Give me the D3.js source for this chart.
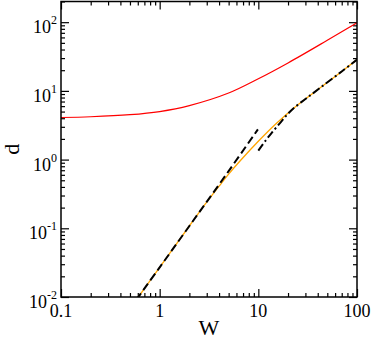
<!DOCTYPE html>
<html>
<head>
<meta charset="utf-8">
<script src="https://cdn.jsdelivr.net/npm/d3@7"></script>
<style>
  body { margin: 0; background: #fff; }
  svg { display: block; font-family: "Liberation Serif", "Times New Roman", serif; }
  .axis path, .axis line { stroke: #000; }
</style>
</head>
<body>
<div class="chart"><svg></svg></div>
<script>
'use strict';

// tick positions and labels
var wTicks = [0.1, 1, 10, 100];
var wTickLabels = ['0.1', '1', '10', '100'];
var dTicks = [0.01, 0.1, 1, 10, 100];
var dTickExp = ['-2', '-1', '0', '1', '2'];

// red curve
var redW = [0.1, 0.2, 0.5, 1, 2, 5, 10, 20, 50, 100];
var redD = [4.1, 4.2, 4.5, 5.0, 6.1, 9.3, 15, 25.5, 54.5, 98];

// orange curve
var orangeW = [0.58, 1, 2, 2.6, 4, 5, 6.8, 10, 15, 23.3, 30, 42.4, 70, 100];
var orangeD = [0.0091, 0.027, 0.108, 0.183, 0.41, 0.615, 1.02, 1.85, 3.3, 5.75, 7.6, 11.1, 19.2, 28.5];

// black dashed (small W)
var dashW = [0.58, 1, 2, 5, 9.9];
var dashD = [0.0091, 0.027, 0.108, 0.68, 2.75];

// black dot-dashed (large W)
var dotDashW = [10, 12, 14, 17, 20, 23.3, 30, 42.4, 70, 100];
var dotDashD = [1.35, 1.94, 2.55, 3.55, 4.65, 5.75, 7.6, 11.1, 19.2, 28.5];

function chartLog() {
    var w = 374, h = 339;
    var margin = { top: 1.5, right: 17, bottom: 42, left: 61 };
    var width = w - margin.left - margin.right;
    var height = h - margin.top - margin.bottom;

    var svg = d3.select('.chart svg').attr('width', w).attr('height', h);

    var x = d3.scaleLog().domain([0.1, 100]).range([0, width]);
    var y = d3.scaleLog().domain([0.01, 200]).range([height, 0]);

    var g = svg.append('g').attr('transform', 'translate(' + margin.left + ',' + margin.top + ')');

    // minor ticks 2..9 of each decade
    function minors(lo, hi) {
        var out = [];
        for (var e = lo; e < hi; e++) {
            for (var k = 2; k <= 9; k++) {
                out.push(+(k * Math.pow(10, e)).toPrecision(3));
            }
        }
        return out;
    }
    var xMinor = minors(-1, 2);
    var yMinor = minors(-2, 3).filter(function (v) { return v <= 200; });

    function drawAxis(axisFn, scale, vals, size, transform) {
        var a = axisFn(scale).tickValues(vals).tickSize(-size).tickFormat('');
        var ga = g.append('g').attr('class', 'axis').attr('transform', transform).call(a);
        ga.select('.domain').remove();
        ga.selectAll('line').attr('stroke-width', 1.2);
    }

    // bottom / top
    drawAxis(d3.axisBottom, x, wTicks, 8, 'translate(0,' + height + ')');
    drawAxis(d3.axisBottom, x, xMinor, 4, 'translate(0,' + height + ')');
    drawAxis(d3.axisTop, x, wTicks, 8, 'translate(0,0)');
    drawAxis(d3.axisTop, x, xMinor, 4, 'translate(0,0)');
    // left / right
    drawAxis(d3.axisLeft, y, dTicks, 8, 'translate(0,0)');
    drawAxis(d3.axisLeft, y, yMinor, 4, 'translate(0,0)');
    drawAxis(d3.axisRight, y, dTicks, 8, 'translate(' + width + ',0)');
    drawAxis(d3.axisRight, y, yMinor, 4, 'translate(' + width + ',0)');

    // clip for curves
    g.append('clipPath').attr('id', 'plot-clip')
        .append('rect').attr('width', width).attr('height', height);

    var line = d3.line()
        .x(function (d) { return x(d[0]); })
        .y(function (d) { return y(d[1]); })
        .curve(d3.curveCatmullRom.alpha(0.5));

    function pairs(a, b) {
        return a.map(function (v, i) { return [v, b[i]]; });
    }

    var curves = g.append('g').attr('clip-path', 'url(#plot-clip)');

    curves.append('path').datum(pairs(redW, redD))
        .attr('d', line).attr('fill', 'none')
        .attr('stroke', '#ff0000').attr('stroke-width', 1.2);

    curves.append('path').datum(pairs(orangeW, orangeD))
        .attr('d', line).attr('fill', 'none')
        .attr('stroke', '#ffa500').attr('stroke-width', 1.3);

    curves.append('path').datum(pairs(dashW, dashD))
        .attr('d', line).attr('fill', 'none')
        .attr('stroke', '#000').attr('stroke-width', 2)
        .attr('stroke-dasharray', '8,4');

    curves.append('path').datum(pairs(dotDashW, dotDashD))
        .attr('d', line).attr('fill', 'none')
        .attr('stroke', '#000').attr('stroke-width', 2)
        .attr('stroke-dasharray', '8,3,2,3');

    // frame
    g.append('rect').attr('width', width).attr('height', height)
        .attr('fill', 'none').attr('stroke', '#000').attr('stroke-width', 1.5);

    // x tick labels
    g.selectAll('.xlab').data(wTicks).enter().append('text')
        .attr('class', 'xlab')
        .attr('x', function (d) { return x(d); })
        .attr('y', height + 20)
        .attr('text-anchor', 'middle')
        .attr('font-size', 18)
        .text(function (d, i) { return wTickLabels[i]; });

    // y tick labels 10^n
    var ylab = g.selectAll('.ylab').data(dTicks).enter().append('text')
        .attr('class', 'ylab')
        .attr('x', -4)
        .attr('y', function (d) { return y(d) + 11; })
        .attr('text-anchor', 'end')
        .attr('font-size', 18);
    ylab.append('tspan').text('10');
    ylab.append('tspan').attr('dy', -9).attr('font-size', 12)
        .text(function (d, i) { return dTickExp[i]; });

    // axis titles
    svg.append('text')
        .attr('x', margin.left + width / 2)
        .attr('y', 335)
        .attr('text-anchor', 'middle')
        .attr('font-size', 22)
        .text('W');

    svg.append('text')
        .attr('transform', 'translate(19,' + (margin.top + height / 2) + ') rotate(-90)')
        .attr('text-anchor', 'middle')
        .attr('font-size', 22)
        .text('d');
}

chartLog();
</script>
</body>
</html>
